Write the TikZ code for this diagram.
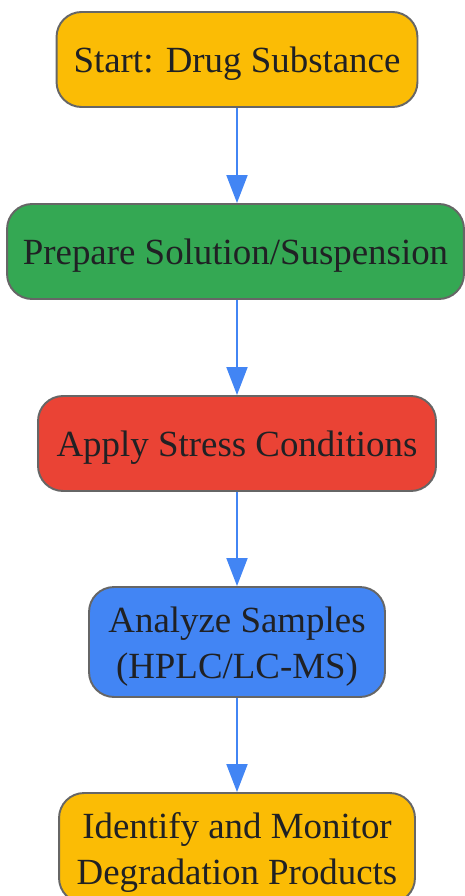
\documentclass[tikz,border=0pt]{standalone}
\usepackage{fontspec}
\setmainfont{Liberation Serif}
\usetikzlibrary{arrows.meta}

\definecolor{gyellow}{HTML}{FBBC05}
\definecolor{ggreen}{HTML}{34A853}
\definecolor{gred}{HTML}{EA4335}
\definecolor{gblue}{HTML}{4285F4}
\definecolor{gborder}{HTML}{666666}
\definecolor{gtext}{HTML}{202124}

\tikzset{
  stepbox/.style={draw=gborder, line width=1.1pt, rounded corners=0.5cm,
    text=gtext, align=center, inner sep=0pt,
    font=\fontsize{21}{26}\selectfont, minimum height=1.9cm,
    execute at begin node={\rule{0pt}{18.8pt}}},
  twoline/.style={minimum height=2.2cm,
    execute at begin node={\rule{0pt}{46pt}}},
  flow/.style={draw=gblue, line width=1.1pt,
    -{Triangle[length=0.56cm,width=0.42cm]}}
}

\begin{document}
\begin{tikzpicture}[x=0.02cm, y=-0.02cm]
              \useasboundingbox (0,0) rectangle (464,896);

              \node [stepbox, fill=gyellow, minimum width=7.22cm] (start) at (237, 59.5) {Start: Drug Substance};
              \node [stepbox, fill=ggreen, minimum width=9.14cm] (prepare) at (235.5, 251.5) {Prepare Solution/Suspension};
              \node [stepbox, fill=gred, minimum width=7.96cm] (stress) at (237, 443.5) {Apply Stress Conditions};
              \node [stepbox, twoline, fill=gblue, minimum width=5.92cm] (analyze) at (237, 642) {Analyze Samples\\(HPLC/LC-MS)};
              \node [stepbox, twoline, fill=gyellow, minimum width=7.12cm] (identify) at (237, 848) {Identify and Monitor\\Degradation Products};

              \draw [flow] (start) -- (start |- prepare.north);
              \draw [flow] (start |- prepare.south) -- (stress);
              \draw [flow] (stress) -- (analyze);
              \draw [flow] (analyze) -- (identify);

            \end{tikzpicture}
\end{document}
